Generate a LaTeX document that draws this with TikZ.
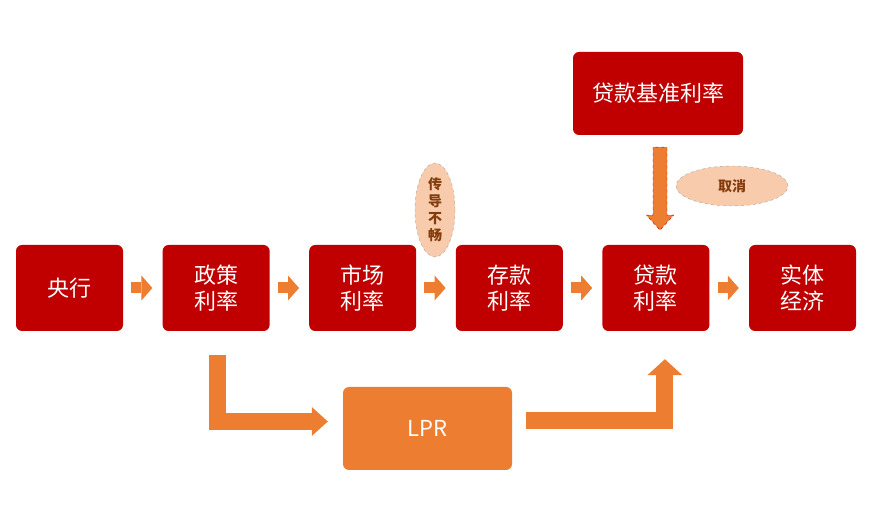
\documentclass[tikz,border=0pt]{standalone}
\usepackage{fontspec}
\setmainfont{Noto Sans CJK SC}
\usetikzlibrary{arrows.meta,shapes.geometric}
\definecolor{boxred}{HTML}{C00000}
\definecolor{flowline}{HTML}{ED7D31}
\definecolor{bubblefill}{HTML}{F8CBAD}
\definecolor{bubbletext}{HTML}{843C0C}
\tikzset{
  ratebox/.style={fill=boxred, text=white, rounded corners=6pt, minimum width=107pt,
    minimum height=86pt, align=center, inner sep=0pt, font=\fontsize{22}{26}\selectfont},
  stepflow/.style={draw=flowline, line width=11pt,
    -{Triangle[length=11pt 0,width=25pt 0,line width=0pt]}, shorten <=8pt, shorten >=10pt},
  bentflow/.style={draw=flowline, line width=17pt, line join=miter},
  bubble/.style={ellipse, fill=bubblefill, draw=gray!70, dashed, text=bubbletext,
    inner sep=0pt, align=center},
}
\begin{document}
\begin{tikzpicture}[x=1pt,y=1pt]
    \useasboundingbox (0,0) rectangle (870,522);
    \node[ratebox] (cb) at (69.5,234) {央行};
    \node[ratebox] (pr) at (216.1,234) {政策\\利率};
    \node[ratebox] (mr) at (362.7,234) {市场\\利率};
    \node[ratebox] (dr) at (509.3,234) {存款\\利率};
    \node[ratebox] (lr) at (655.9,234) {贷款\\利率};
    \node[ratebox] (re) at (802.5,234) {实体\\经济};
    \node[ratebox, minimum width=170pt, minimum height=83pt] (bm) at (658,428.5) {贷款基准利率};
    \node[ratebox, fill=flowline, minimum width=169pt, minimum height=83pt] (lpr) at (427.5,93.5) {LPR};
    \foreach \a/\b in {cb/pr,pr/mr,mr/dr,dr/lr,lr/re}
        \draw[stepflow] (\a.east) -- (\b.west);
    \draw[bentflow, -{Triangle[length=16pt 0,width=29pt 0,line width=0pt]}]
        ([xshift=1.5pt,yshift=-24pt]pr.south) |- ([xshift=-15pt,yshift=7pt]lpr.west);
    \draw[bentflow, -{Triangle[length=16pt 0,width=35pt 0,line width=0pt]}]
        ([xshift=14pt,yshift=8pt]lpr.east) -| ([xshift=9pt,yshift=-28pt]lr.south);
    \coordinate (cut) at ([xshift=2pt,yshift=-12pt]bm.south);
    \draw[draw=boxred, fill=flowline, dashed] (cut) ++(-7,0) -- ++(0,-68) -- ++(-6.5,0)
        -- ++(13.5,-15) -- ++(13.5,15) -- ++(-6.5,0) -- ++(0,68) -- cycle;
    \node[bubble, minimum width=40pt, minimum height=94pt, font=\bfseries\fontsize{14}{17}\selectfont]
        (jam) at (435,312) {传\\导\\不\\畅};
    \node[bubble, minimum width=112pt, minimum height=40pt, font=\bfseries\fontsize{14}{16}\selectfont]
        (cancel) at (732,336) {取消};
\end{tikzpicture}
\end{document}
